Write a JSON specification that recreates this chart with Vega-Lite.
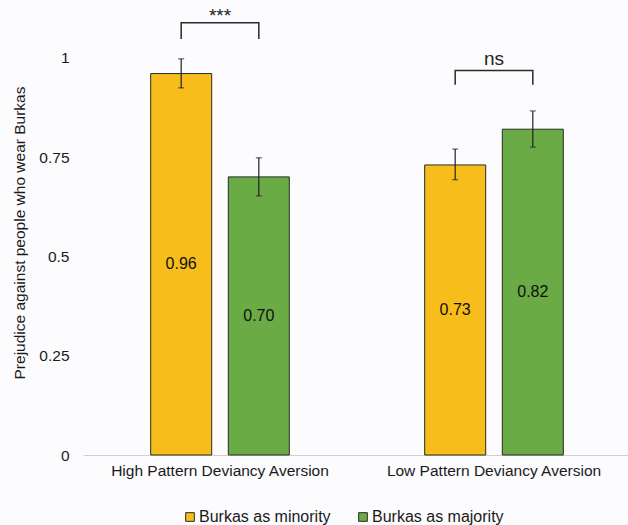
{
  "$schema": "https://vega.github.io/schema/vega-lite/v6.json",
  "width": 548,
  "height": 445,
  "autosize": {"type": "none"},
  "padding": {"left": 83, "top": 10, "right": 0, "bottom": 70},
  "background": "#fcfcfe",
  "config": {
    "view": {"stroke": null},
    "font": "Liberation Sans",
    "axis": {"labelFont": "Liberation Sans", "titleFont": "Liberation Sans", "labelColor": "#1a1a1a", "titleColor": "#1a1a1a"},
    "legend": {"labelFont": "Liberation Sans"}
  },
  "datasets": {
    "bars": [
      {"group": "High Pattern Deviancy Aversion", "condition": "Burkas as minority", "value": 0.96, "lo": 0.924, "hi": 0.997},
      {"group": "High Pattern Deviancy Aversion", "condition": "Burkas as majority", "value": 0.70, "lo": 0.652, "hi": 0.748},
      {"group": "Low Pattern Deviancy Aversion", "condition": "Burkas as minority", "value": 0.73, "lo": 0.693, "hi": 0.770},
      {"group": "Low Pattern Deviancy Aversion", "condition": "Burkas as majority", "value": 0.82, "lo": 0.775, "hi": 0.866}
    ],
    "brackets": [
      {"group": "High Pattern Deviancy Aversion", "condition": "Burkas as minority", "y": 1.047, "k": 1},
      {"group": "High Pattern Deviancy Aversion", "condition": "Burkas as minority", "y": 1.088, "k": 2},
      {"group": "High Pattern Deviancy Aversion", "condition": "Burkas as majority", "y": 1.088, "k": 3},
      {"group": "High Pattern Deviancy Aversion", "condition": "Burkas as majority", "y": 1.047, "k": 4},
      {"group": "Low Pattern Deviancy Aversion", "condition": "Burkas as minority", "y": 0.932, "k": 1},
      {"group": "Low Pattern Deviancy Aversion", "condition": "Burkas as minority", "y": 0.968, "k": 2},
      {"group": "Low Pattern Deviancy Aversion", "condition": "Burkas as majority", "y": 0.968, "k": 3},
      {"group": "Low Pattern Deviancy Aversion", "condition": "Burkas as majority", "y": 0.932, "k": 4}
    ],
    "sig": [
      {"group": "High Pattern Deviancy Aversion", "label": "***", "y": 1.104},
      {"group": "Low Pattern Deviancy Aversion", "label": "ns", "y": 0.997}
    ]
  },
  "encoding": {
    "x": {
      "field": "group", "type": "nominal",
      "scale": {"paddingInner": 0.494, "paddingOuter": 0.247},
      "axis": {"title": null, "labelAngle": 0, "ticks": false, "domainColor": "#d0d0d4", "labelFontSize": 15.5, "labelPadding": 8, "labelLimit": 0}
    }
  },
  "layer": [
    {
      "data": {"name": "bars"},
      "mark": {"type": "bar", "stroke": "#2a2a2a", "strokeWidth": 1},
      "encoding": {
        "xOffset": {"field": "condition", "type": "nominal", "sort": ["Burkas as minority", "Burkas as majority"], "scale": {"paddingInner": 0.214, "paddingOuter": 0}},
        "y": {
          "field": "value", "type": "quantitative",
          "scale": {"domain": [0, 1.12], "nice": false},
          "axis": {"title": "Prejudice against people who wear Burkas", "values": [0, 0.25, 0.5, 0.75, 1], "format": "~g", "grid": false, "domain": false, "ticks": false, "labelFontSize": 15.5, "labelPadding": 14, "titleFontSize": 15.5, "titleFontWeight": "normal", "titlePadding": 11}
        },
        "color": {
          "field": "condition", "type": "nominal",
          "sort": ["Burkas as minority", "Burkas as majority"],
          "scale": {"domain": ["Burkas as minority", "Burkas as majority"], "range": ["#f6bd1b", "#6aab46"]},
          "legend": {"title": null, "orient": "none", "legendX": 99, "legendY": 499, "direction": "horizontal", "symbolType": "square", "symbolSize": 75, "symbolStrokeColor": "#2a2a2a", "symbolStrokeWidth": 1, "labelFontSize": 16, "labelColor": "#1a1a1a", "columnPadding": 24, "labelOffset": 1, "labelLimit": 0}
        }
      }
    },
    {
      "data": {"name": "bars"},
      "mark": {"type": "rule", "color": "#222", "strokeWidth": 1.2},
      "encoding": {
        "xOffset": {"field": "condition", "type": "nominal", "sort": ["Burkas as minority", "Burkas as majority"]},
        "y": {"field": "lo", "type": "quantitative"},
        "y2": {"field": "hi"}
      }
    },
    {
      "data": {"name": "bars"},
      "mark": {"type": "tick", "color": "#222", "size": 6, "thickness": 1.2, "orient": "horizontal"},
      "encoding": {
        "xOffset": {"field": "condition", "type": "nominal", "sort": ["Burkas as minority", "Burkas as majority"]},
        "y": {"field": "lo", "type": "quantitative"}
      }
    },
    {
      "data": {"name": "bars"},
      "mark": {"type": "tick", "color": "#222", "size": 6, "thickness": 1.2, "orient": "horizontal"},
      "encoding": {
        "xOffset": {"field": "condition", "type": "nominal", "sort": ["Burkas as minority", "Burkas as majority"]},
        "y": {"field": "hi", "type": "quantitative"}
      }
    },
    {
      "data": {"name": "bars"},
      "transform": [{"calculate": "datum.value / 2", "as": "mid"}],
      "mark": {"type": "text", "fontSize": 16, "color": "#111", "baseline": "middle"},
      "encoding": {
        "xOffset": {"field": "condition", "type": "nominal", "sort": ["Burkas as minority", "Burkas as majority"]},
        "y": {"field": "mid", "type": "quantitative"},
        "text": {"field": "value", "type": "quantitative", "format": ".2f"}
      }
    },
    {
      "data": {"name": "brackets"},
      "mark": {"type": "line", "color": "#2a2a2a", "strokeWidth": 1.5, "clip": false},
      "encoding": {
        "xOffset": {"field": "condition", "type": "nominal", "sort": ["Burkas as minority", "Burkas as majority"]},
        "y": {"field": "y", "type": "quantitative"},
        "order": {"field": "k", "type": "quantitative"},
        "detail": {"field": "group"}
      }
    },
    {
      "data": {"name": "sig"},
      "mark": {"type": "text", "fontSize": 19, "color": "#222", "baseline": "middle", "clip": false},
      "encoding": {
        "y": {"field": "y", "type": "quantitative"},
        "text": {"field": "label"}
      }
    }
  ]
}
